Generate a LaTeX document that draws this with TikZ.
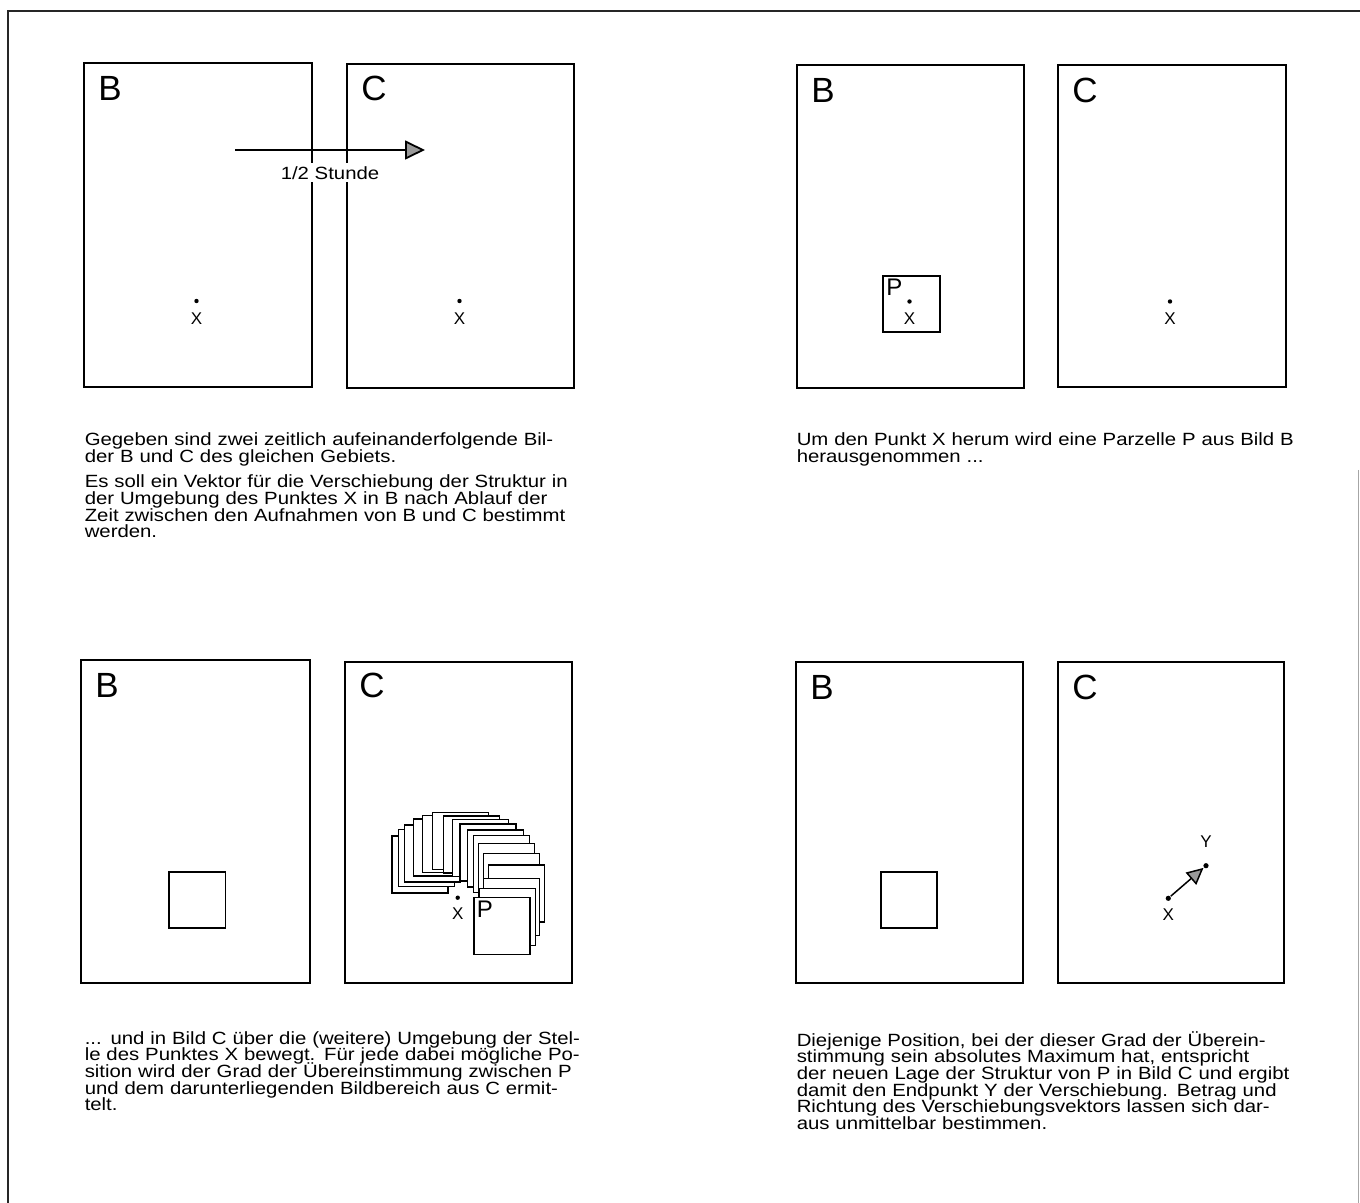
\documentclass[tikz,border=0pt]{standalone}
\usepackage{fontspec}
\setmainfont{Liberation Sans}
\newfontfamily\beschrfont{Liberation Sans}[FakeStretch=1.15]
\newcommand\beschrsatz{\beschrfont\fontsize{8.85}{8.35}\selectfont\lineskiplimit=-5pt
  \spaceskip=0.32em plus 0.6em minus 0.12em\relax}
% a justified line of the caption
\newcommand\jz[1]{\makebox[245pt][s]{#1}}
\usetikzlibrary{arrows.meta}

\tikzset{every picture/.style={line width=0.75pt}}
\tikzset{
  bild/.style={line width=1pt},
  parz/.style={fill=white, line width=0.6pt},
  ptdot/.style={circle, fill=black, inner sep=0pt, minimum size=2.2pt},
  grossbst/.style={anchor=north west, inner sep=0.75pt, font=\fontsize{17.5}{17.5}\selectfont},
  pbst/.style={anchor=north west, inner sep=0.75pt, font=\fontsize{12}{12}\selectfont},
  xbst/.style={inner sep=0.75pt, font=\fontsize{8.5}{8.5}\selectfont},
  beschr/.style={anchor=base west, inner sep=0pt, text width=245pt, align=left, font=\beschrsatz},
}

\begin{document}
\begin{tikzpicture}[x=0.5pt,y=0.5pt,yscale=-1,xscale=1]
\useasboundingbox (0,0) rectangle (1360,1203);

%Straight Lines: outer frame
\draw [line width=0.8pt, black!85] (8,1203) -- (8,11) -- (1360,11) ;
\draw [line width=0.5pt, black!35] (1358,470) -- (1358,1203) ;

%%%%%%%% top left
%Shape: Rectangle
\draw [bild] (84,63) rectangle (312,387) ;
%Shape: Rectangle
\draw [bild] (347,64) rectangle (574,388) ;
% Text Node
\draw (96,74) node (lblB1) [grossbst] {B};
% Text Node
\draw (359,74) node (lblC1) [grossbst] {C};
%Straight Lines with arrow
\coordinate (zeit0) at (235,150);
\coordinate (zeit1) at (425,150);
\draw [line width=0.9pt, -{Triangle[length=10pt,width=9.5pt,fill=gray!80]}] (zeit0) -- (zeit1) ;
% Text Node
\draw (330,173) node (lblZeit) [fill=white, inner sep=1.5pt, font=\beschrsatz] {1/2 Stunde};
% X in B and C
\node (xB1) [ptdot] at (196.5,301) {};
\draw (196.5,318.5) node (lblXB1) [xbst] {X};
\node (xC1) [ptdot] at (459.5,301) {};
\draw (459.5,318.5) node (lblXC1) [xbst] {X};
% Text Node
\draw (84,446) node (txt1) [beschr] {\jz{Gegeben sind zwei zeitlich aufeinanderfolgende Bil-}\\
  der B und C des gleichen Gebiets.\\[4.2pt]
  \jz{Es soll ein Vektor für die Verschiebung der Struktur in}\\
  \jz{der Umgebung des Punktes X in B nach Ablauf der}\\
  \jz{Zeit zwischen den Aufnahmen von B und C bestimmt}\\
  werden.};

%%%%%%%% top right
%Shape: Rectangle
\draw [bild] (797,65) rectangle (1024,388) ;
%Shape: Rectangle
\draw [bild] (1058,65) rectangle (1286,387) ;
% Text Node
\draw (809,76) node (lblB2) [grossbst] {B};
% Text Node
\draw (1070,76) node (lblC2) [grossbst] {C};
%Shape: Square P
\draw [parz] (883,276) rectangle (940,332) ;
% Text Node
\draw (884,277) node (lblP2) [pbst] {P};
\node (xB2) [ptdot] at (909.5,301.5) {};
\draw (909.5,318.5) node (lblXB2) [xbst] {X};
\node (xC2) [ptdot] at (1170,301.5) {};
\draw (1170,318.5) node (lblXC2) [xbst] {X};
% Text Node
\draw (796,446) node (txt2) [beschr] {\jz{Um den Punkt X herum wird eine Parzelle P aus Bild B}\\
  herausgenommen ...};

%%%%%%%% bottom left
%Shape: Rectangle
\draw [bild] (81,660) rectangle (310,983) ;
%Shape: Rectangle
\draw [bild] (345,662) rectangle (572,983) ;
% Text Node
\draw (93,671) node (lblB3) [grossbst] {B};
% Text Node
\draw (357,671) node (lblC3) [grossbst] {C};
%Shape: Square
\draw [parz] (169,872) rectangle (225.5,928) ;
%Shape: Squares moved round X
\foreach \sx/\sy in {392/836, 398.7/829.3, 404.3/825, 413.3/819, 422.3/815.7, 432.3/812.7, 443.3/816, 452.3/819.3, 460/824, 467.7/830, 473.3/835.7, 478.3/843.3, 483.3/853.3, 488.3/865, 483.3/878.3, 479.3/888.3}
  \draw [parz] (\sx,\sy) rectangle ++(56,57) ;
\draw [parz] (474,897.3) rectangle ++(56,57) ;
% Text Node
\draw (474.5,898.5) node (lblP3) [pbst] {P};
\node (xC3) [ptdot] at (457.7,897.7) {};
\draw (457.7,914) node (lblXC3) [xbst] {X};
% Text Node
\draw (84,1044) node (txt3) [beschr] {\jz{... und in Bild C über die (weitere) Umgebung der Stel-}\\
  \jz{le des Punktes X bewegt. Für jede dabei mögliche Po-}\\
  \jz{sition wird der Grad der Übereinstimmung zwischen P}\\
  \jz{und dem darunterliegenden Bildbereich aus C ermit-}\\
  telt.};

%%%%%%%% bottom right
%Shape: Rectangle
\draw [bild] (796,662) rectangle (1023,983) ;
%Shape: Rectangle
\draw [bild] (1058,662) rectangle (1284,983) ;
% Text Node
\draw (808,673) node (lblB4) [grossbst] {B};
% Text Node
\draw (1070,673) node (lblC4) [grossbst] {C};
%Shape: Square
\draw [parz] (881,872) rectangle (937,928) ;
% X and Y with vector
\node (xC4) [ptdot, minimum size=2.6pt] at (1168.3,898.3) {};
\node (yC4) [ptdot, minimum size=2.6pt] at (1206,865.7) {};
\draw (1168.3,915) node (lblXC4) [xbst] {X};
\draw (1206,842) node (lblYC4) [xbst] {Y};
\draw [-{Triangle[length=8.3pt,width=8pt,fill=gray!80]}] (xC4) -- (yC4) ;
% Text Node
\draw (796,1046) node (txt4) [beschr] {\jz{Diejenige Position, bei der dieser Grad der Überein-}\\
  \jz{stimmung sein absolutes Maximum hat, entspricht}\\
  \jz{der neuen Lage der Struktur von P in Bild C und ergibt}\\
  \jz{damit den Endpunkt Y der Verschiebung. Betrag und}\\
  \jz{Richtung des Verschiebungsvektors lassen sich dar-}\\
  aus unmittelbar bestimmen.};

\end{tikzpicture}
\end{document}
